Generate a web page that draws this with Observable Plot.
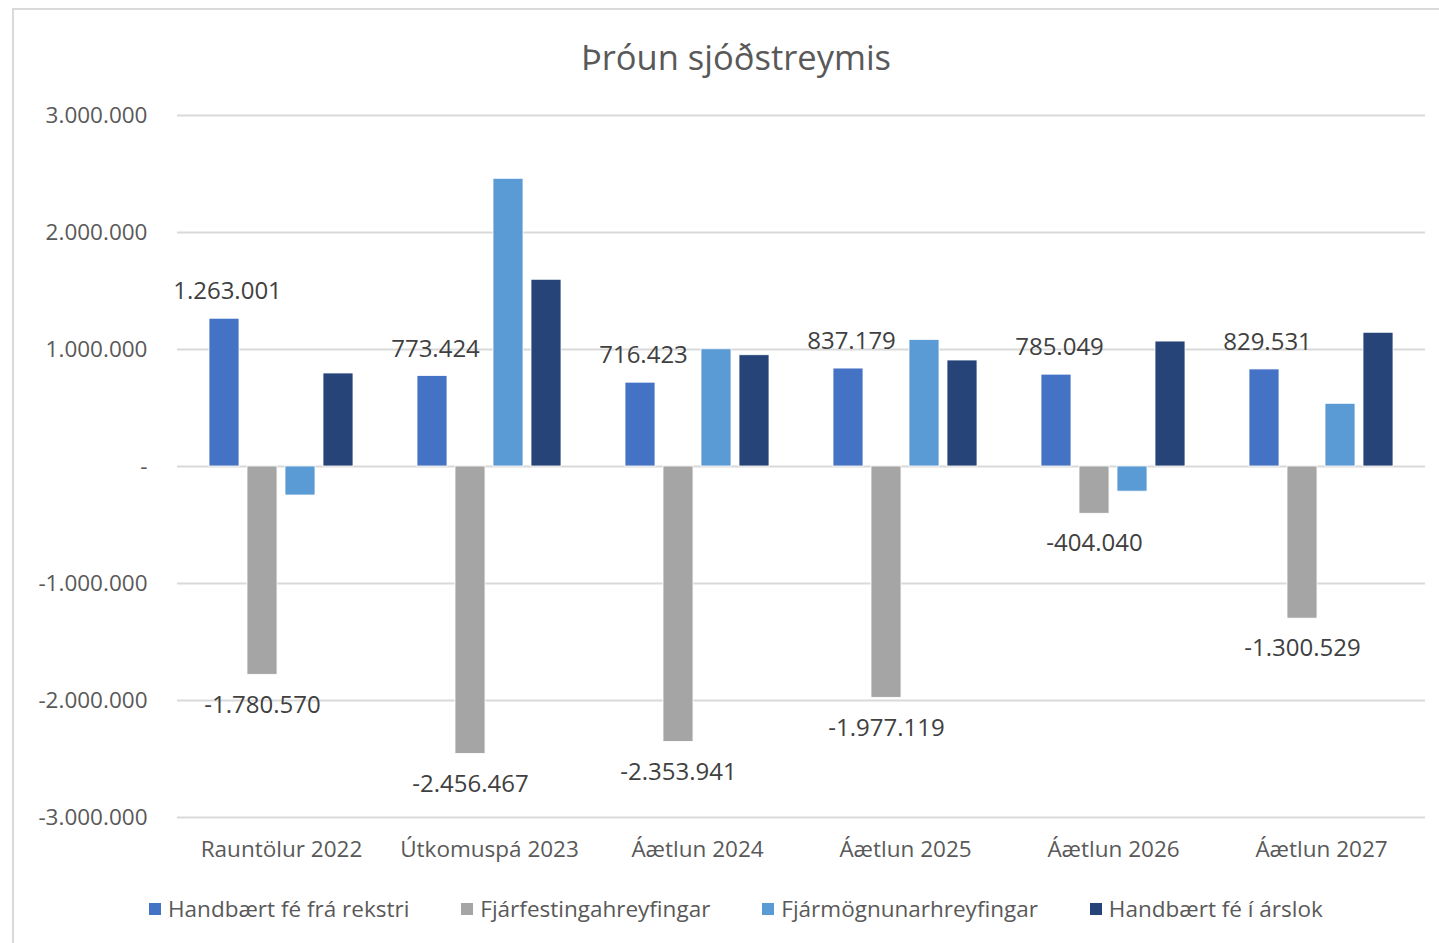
<!DOCTYPE html>
<html>
<head>
<meta charset="utf-8">
<script src="https://cdn.jsdelivr.net/npm/d3@7"></script>
<script src="https://cdn.jsdelivr.net/npm/@observablehq/plot@0.6"></script>
<style>
  html, body { margin: 0; padding: 0; background: #fff; width: 1439px; height: 943px; overflow: hidden; }
  body { position: relative; font-family: "Open Sans", "Noto Sans", sans-serif; }
  #frame { position: absolute; left: 12px; top: 8px; width: 1440px; height: 945px; border: 2px solid #d9d9d9; box-sizing: border-box; }
  #title { position: absolute; left: 0; top: 33px; width: 1472px; text-align: center; font-size: 34.5px; color: #595959; line-height: 48px; }
  #chart { position: absolute; left: 0; top: 90px; }
  #legend { position: absolute; left: 149px; top: 893px; display: flex; gap: 52px; font-size: 22.5px; color: #595959; line-height: 32px; white-space: nowrap; }
  .item { display: flex; align-items: center; }
  .sw { width: 12px; height: 12px; margin-right: 7px; }
</style>
</head>
<body>
<div id="frame"></div>
<div id="title">Þróun sjóðstreymis</div>
<div id="chart"></div>
<div id="legend"></div>
<script>
const categories = ["Rauntölur 2022", "Útkomuspá 2023", "Áætlun 2024", "Áætlun 2025", "Áætlun 2026", "Áætlun 2027"];
const seriesNames = ["Handbært fé frá rekstri", "Fjárfestingahreyfingar", "Fjármögnunarhreyfingar", "Handbært fé í árslok"];
const seriesColors = ["#4472C4", "#A5A5A5", "#5B9BD5", "#264478"];
const rekstur = [1263001, 773424, 716423, 837179, 785049, 829531];
const fjarfesting = [-1780570, -2456467, -2353941, -1977119, -404040, -1300529];
const fjarmognun = [-248000, 2459000, 1002000, 1082000, -215000, 536000];
const arslok = [795000, 1596000, 951000, 906000, 1068000, 1143000];
const yTicks = [-3000000, -2000000, -1000000, 0, 1000000, 2000000, 3000000];

const seriesValues = [rekstur, fjarfesting, fjarmognun, arslok];
const data = [];
categories.forEach((c, i) => {
  seriesNames.forEach((s, j) => {
    data.push({category: c, series: s, value: seriesValues[j][i]});
  });
});

const isLocale = d3.formatLocale({decimal: ",", thousands: ".", grouping: [3], currency: ["", " kr."], minus: "-"});
const isFmt = v => v === 0 ? "-" : isLocale.format(",")(v);

const labelTop = data.filter(d => d.series === seriesNames[0]);
const labelBottom = data.filter(d => d.series === seriesNames[1]);

const chart = Plot.plot({
  width: 1439,
  height: 790,
  marginLeft: 175,
  marginRight: 13,
  marginTop: 25,
  marginBottom: 63,
  style: {fontFamily: "'Open Sans', 'Noto Sans', sans-serif", background: "transparent"},
  fx: {domain: categories, padding: 0, axis: "bottom", label: null, tickSize: 0, tickPadding: 24},
  x: {domain: seriesNames, paddingInner: 0.2, paddingOuter: 0.8, axis: null},
  y: {domain: [-3000000, 3000000], ticks: yTicks, tickFormat: isFmt, tickSize: 0, tickPadding: 30, label: null},
  color: {domain: seriesNames, range: seriesColors},
  marks: [
    Plot.ruleY(yTicks, {stroke: "#d9d9d9", strokeWidth: 2}),
    Plot.barY(data, {fx: "category", x: "series", y: "value", fill: "series", stroke: "white", strokeWidth: 0.8}),
    Plot.text(labelTop, {fx: "category", x: "series", y: "value", text: d => isFmt(d.value), dy: -27, dx: 3, fontSize: 24, fill: "#404040"}),
    Plot.text(labelBottom, {fx: "category", x: "series", y: "value", text: d => isFmt(d.value), dy: 30, fontSize: 24, fill: "#404040"})
  ]
});
const style = document.createElement("style");
style.textContent = `#chart svg g[aria-label="y-axis tick label"], #chart svg g[aria-label="fx-axis tick label"] { fill: #595959; font-size: 22.5px; }
#chart svg g[aria-label="y-axis tick label"] text, #chart svg g[aria-label="fx-axis tick label"] text { fill: #595959; font-size: 22.5px; }`;
document.head.appendChild(style);
document.getElementById("chart").appendChild(chart);

const legend = document.getElementById("legend");
seriesNames.forEach((s, j) => {
  const it = document.createElement("div");
  it.className = "item";
  const sw = document.createElement("div");
  sw.className = "sw";
  sw.style.background = seriesColors[j];
  const tx = document.createElement("span");
  tx.textContent = s;
  it.appendChild(sw);
  it.appendChild(tx);
  legend.appendChild(it);
});
</script>
</body>
</html>
